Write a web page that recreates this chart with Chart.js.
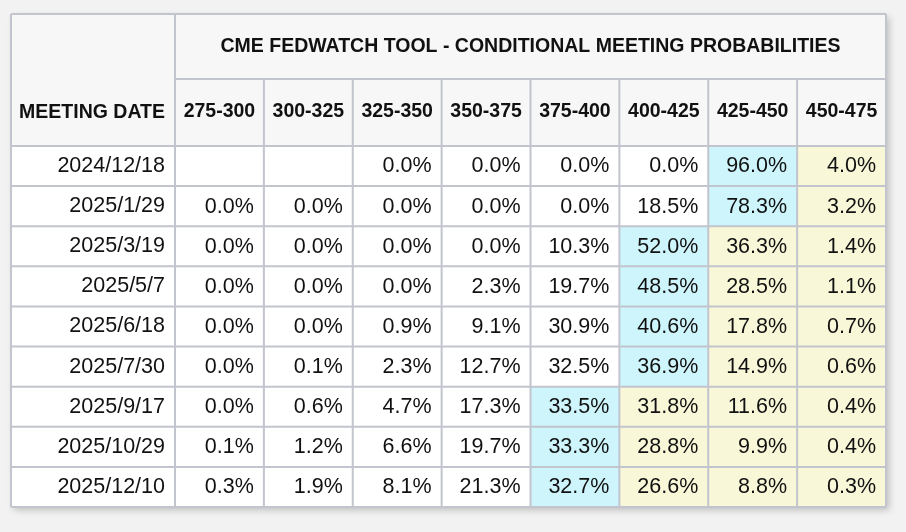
<!DOCTYPE html>
<html>
<head>
<meta charset="utf-8">
<script src="https://cdn.jsdelivr.net/npm/chart.js@4.4.1/dist/chart.umd.min.js"></script>
<style>
  html, body { margin: 0; padding: 0; background: #f2f2f2; }
  canvas { display: block; }
</style>
</head>
<body>
<canvas id="c" width="906" height="532"></canvas>
<script>
// ==== data ====
const title = "CME FEDWATCH TOOL - CONDITIONAL MEETING PROBABILITIES";
const dateHeader = "MEETING DATE";
const meetingDates = ["2024/12/18", "2025/1/29", "2025/3/19", "2025/5/7", "2025/6/18",
                      "2025/7/30", "2025/9/17", "2025/10/29", "2025/12/10"];
const rateRanges = ["275-300", "300-325", "325-350", "350-375", "375-400", "400-425", "425-450", "450-475"];

// one array per target range, one value per meeting (null = no cell value)
const p275_300 = [null, 0.0, 0.0, 0.0, 0.0, 0.0, 0.0, 0.1, 0.3];
const p300_325 = [null, 0.0, 0.0, 0.0, 0.0, 0.1, 0.6, 1.2, 1.9];
const p325_350 = [0.0, 0.0, 0.0, 0.0, 0.9, 2.3, 4.7, 6.6, 8.1];
const p350_375 = [0.0, 0.0, 0.0, 2.3, 9.1, 12.7, 17.3, 19.7, 21.3];
const p375_400 = [0.0, 0.0, 10.3, 19.7, 30.9, 32.5, 33.5, 33.3, 32.7];
const p400_425 = [0.0, 18.5, 52.0, 48.5, 40.6, 36.9, 31.8, 28.8, 26.6];
const p425_450 = [96.0, 78.3, 36.3, 28.5, 17.8, 14.9, 11.6, 9.9, 8.8];
const p450_475 = [4.0, 3.2, 1.4, 1.1, 0.7, 0.6, 0.4, 0.4, 0.3];
const columns = [p275_300, p300_325, p325_350, p350_375, p375_400, p400_425, p425_450, p450_475];

// ==== styles ====
const FONT = "'Liberation Sans', Arial, Helvetica, sans-serif";
const LINE = "#c2c4ce";
const HEAD_BG = "#f7f7f7";
const CELL_BG = "#ffffff";
const MAX_BG = "#cdf5fb";
const UP_BG = "#f8f8d9";
const HEAD_SPLIT = 65;   // height of the title row

// index of the most likely range per meeting
const maxIdx = meetingDates.map((_, r) => {
  let best = -1, bi = -1;
  columns.forEach((col, c) => { if (col[r] != null && col[r] > best) { best = col[r]; bi = c; } });
  return bi;
});

const cellColor = (r, c) => c === maxIdx[r] ? MAX_BG : (c > maxIdx[r] ? UP_BG : CELL_BG);

const datasets = columns.map((col, c) => ({
  label: rateRanges[c],
  data: col.map(v => v == null ? null : [c, c + 1]),
  values: col,
  backgroundColor: col.map((_, r) => cellColor(r, c)),
  borderWidth: 0,
  barPercentage: 1,
  categoryPercentage: 1,
  grouped: false
}));

// ==== table plugin ====
const tablePlugin = {
  id: "table",
  beforeDraw(chart) {
    const { ctx, chartArea: a } = chart;
    const left = chart.scales.y.left, top = chart.scales.x2.top;
    ctx.save();
    ctx.fillStyle = "#f2f2f2";
    ctx.fillRect(0, 0, chart.width, chart.height);
    ctx.shadowColor = "rgba(0,0,0,0.22)";
    ctx.shadowBlur = 7;
    ctx.shadowOffsetX = 3;
    ctx.shadowOffsetY = 3;
    ctx.fillStyle = CELL_BG;
    ctx.fillRect(left, top, a.right - left, a.bottom - top);
    ctx.shadowColor = "transparent";
    ctx.fillStyle = HEAD_BG;
    ctx.fillRect(left, top, a.right - left, a.top - top);
    ctx.restore();
  },
  afterDatasetsDraw(chart) {
    const { ctx, chartArea: a } = chart;
    const xs = chart.scales.x, ys = chart.scales.y;
    const left = ys.left, top = chart.scales.x2.top;
    const split = top + HEAD_SPLIT;
    ctx.save();
    ctx.strokeStyle = LINE;
    ctx.lineWidth = 2;
    const line = (x1, y1, x2, y2) => { ctx.beginPath(); ctx.moveTo(x1, y1); ctx.lineTo(x2, y2); ctx.stroke(); };
    // vertical
    line(left, top, left, a.bottom);
    line(a.left, top, a.left, a.bottom);
    for (let c = 1; c < rateRanges.length; c++) {
      const x = xs.getPixelForValue(c);
      line(x, split, x, a.bottom);
    }
    line(a.right, top, a.right, a.bottom);
    // horizontal
    line(left, top, a.right, top);
    line(a.left, split, a.right, split);
    for (let r = 0; r <= meetingDates.length; r++) {
      const y = ys.getPixelForDecimal(r / meetingDates.length);
      line(left, y, a.right, y);
    }
    // header text for the date column
    ctx.fillStyle = "#111";
    ctx.font = "bold 19.5px " + FONT;
    ctx.textAlign = "right";
    ctx.textBaseline = "middle";
    ctx.fillText(dateHeader, a.left - 10, (split + a.top) / 2);
    // cell values
    ctx.font = "21.5px " + FONT;
    chart.data.datasets.forEach((ds, i) => {
      chart.getDatasetMeta(i).data.forEach((bar, r) => {
        const v = ds.values[r];
        if (v == null) return;
        ctx.fillText(v.toFixed(1) + "%", Math.max(bar.x, bar.base) - 10, bar.y + 0.5);
      });
    });
    ctx.restore();
  }
};

new Chart(document.getElementById("c"), {
  type: "bar",
  data: { labels: meetingDates, datasets },
  options: {
    indexAxis: "y",
    responsive: false,
    animation: false,
    layout: { padding: { left: 11, top: 14, right: 20, bottom: 25 } },
    plugins: { legend: { display: false }, tooltip: { enabled: false } },
    scales: {
      x: { type: "linear", min: 0, max: rateRanges.length, display: false },
      x2: {
        type: "category",
        labels: rateRanges,
        position: "top",
        offset: true,
        grid: { display: false, drawTicks: false },
        border: { display: false },
        ticks: { color: "#111", font: { family: FONT, size: 19.5, weight: "bold" }, padding: 23, maxRotation: 0, autoSkip: false },
        title: { display: true, text: title, color: "#111", font: { family: FONT, size: 19.5, weight: "bold" }, padding: { top: 21, bottom: 0 } },
        afterFit: s => { s.height = 132; }
      },
      y: {
        type: "category",
        offset: true,
        grid: { display: false, drawTicks: false },
        border: { display: false },
        ticks: { color: "#111", font: { family: FONT, size: 21.5 }, padding: 10, autoSkip: false },
        afterFit: s => { s.width = 164; }
      }
    }
  },
  plugins: [tablePlugin]
});
</script>
</body>
</html>
